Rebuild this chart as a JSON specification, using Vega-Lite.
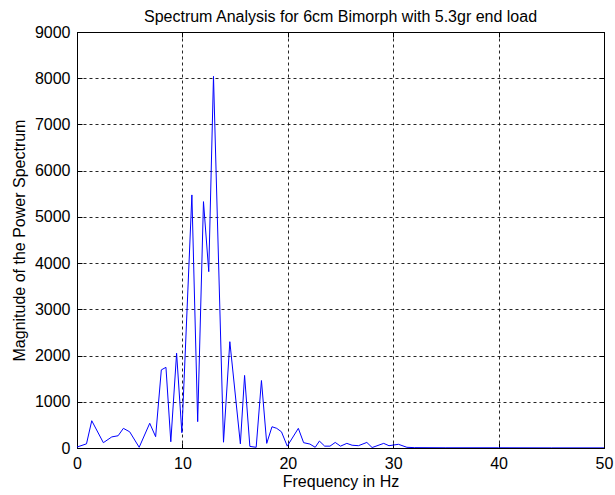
{
  "$schema": "https://vega.github.io/schema/vega-lite/v6.json",
  "autosize": "none",
  "width": 527,
  "height": 416,
  "padding": {"left": 77, "top": 32, "right": 11, "bottom": 47},
  "background": "white",
  "config": {
    "font": "Liberation Sans",
    "view": {"stroke": "black", "strokeWidth": 1},
    "axis": {
      "labelFont": "Liberation Sans",
      "titleFont": "Liberation Sans",
      "labelFontSize": 16,
      "titleFontSize": 16,
      "titleFontWeight": "normal",
      "labelColor": "black",
      "titleColor": "black",
      "domainColor": "black",
      "tickColor": "black",
      "gridColor": "black",
      "gridDash": [3, 3],
      "gridOpacity": 0.85,
      "gridWidth": 1
    }
  },
  "title": {
    "text": "Spectrum Analysis for 6cm Bimorph with 5.3gr end load",
    "font": "Liberation Sans",
    "fontSize": 16,
    "fontWeight": "normal",
    "color": "black",
    "anchor": "middle",
    "offset": -1
  },
  "data": {
    "values": [
      {"f": 0, "p": 20}, {"f": 0.9, "p": 90}, {"f": 1.4, "p": 590}, {"f": 2.5, "p": 115},
      {"f": 3.3, "p": 240}, {"f": 3.9, "p": 265}, {"f": 4.4, "p": 425}, {"f": 5.0, "p": 350},
      {"f": 5.9, "p": 15}, {"f": 6.9, "p": 535}, {"f": 7.46, "p": 245}, {"f": 8.0, "p": 1690},
      {"f": 8.44, "p": 1745}, {"f": 8.9, "p": 135}, {"f": 9.45, "p": 2050}, {"f": 9.95, "p": 330},
      {"f": 10.9, "p": 5475}, {"f": 11.45, "p": 570}, {"f": 12.0, "p": 5330}, {"f": 12.5, "p": 3815},
      {"f": 12.95, "p": 8040}, {"f": 13.9, "p": 125}, {"f": 14.5, "p": 2300}, {"f": 15.5, "p": 90},
      {"f": 15.9, "p": 1570}, {"f": 16.4, "p": 35}, {"f": 17.0, "p": 15}, {"f": 17.5, "p": 1460},
      {"f": 18.0, "p": 100}, {"f": 18.5, "p": 460}, {"f": 18.95, "p": 425}, {"f": 19.4, "p": 350},
      {"f": 19.95, "p": 40}, {"f": 21.0, "p": 425}, {"f": 21.5, "p": 115}, {"f": 22.1, "p": 85},
      {"f": 22.6, "p": 15}, {"f": 23.0, "p": 150}, {"f": 23.5, "p": 40}, {"f": 24.0, "p": 40},
      {"f": 24.5, "p": 120}, {"f": 25.0, "p": 40}, {"f": 25.6, "p": 100}, {"f": 26.1, "p": 60},
      {"f": 26.7, "p": 50}, {"f": 27.5, "p": 120}, {"f": 28.0, "p": 10}, {"f": 29.1, "p": 100},
      {"f": 29.6, "p": 50}, {"f": 30.5, "p": 80}, {"f": 31.3, "p": 15}, {"f": 32, "p": 8},
      {"f": 35, "p": 5}, {"f": 40, "p": 5}, {"f": 45, "p": 3}, {"f": 50, "p": 3}
    ]
  },
  "resolve": {"axis": {"x": "independent", "y": "independent"}},
  "layer": [
    {
      "mark": {"type": "line", "color": "#0000ff", "strokeWidth": 1, "clip": true},
      "encoding": {
        "x": {
          "field": "f", "type": "quantitative",
          "scale": {"domain": [0, 50], "nice": false, "zero": false},
          "axis": {"title": "Frequency in Hz", "values": [0, 10, 20, 30, 40, 50], "tickSize": -5, "labelPadding": 12, "titlePadding": 2, "labelFlush": false}
        },
        "y": {
          "field": "p", "type": "quantitative",
          "scale": {"domain": [0, 9000], "nice": false},
          "axis": {"title": "Magnitude of the Power Spectrum", "format": "d", "values": [0, 1000, 2000, 3000, 4000, 5000, 6000, 7000, 8000, 9000], "tickSize": -5, "labelPadding": 12, "titlePadding": 7, "labelFlush": false}
        }
      }
    },
    {
      "mark": {"type": "line", "opacity": 0, "clip": true},
      "encoding": {
        "x": {
          "field": "f", "type": "quantitative",
          "scale": {"domain": [0, 50], "nice": false, "zero": false},
          "axis": {"orient": "top", "title": null, "labels": false, "grid": false, "values": [0, 10, 20, 30, 40, 50], "tickSize": -5}
        },
        "y": {
          "field": "p", "type": "quantitative",
          "scale": {"domain": [0, 9000], "nice": false},
          "axis": {"orient": "right", "title": null, "labels": false, "grid": false, "values": [0, 1000, 2000, 3000, 4000, 5000, 6000, 7000, 8000, 9000], "tickSize": -5}
        }
      }
    }
  ]
}
